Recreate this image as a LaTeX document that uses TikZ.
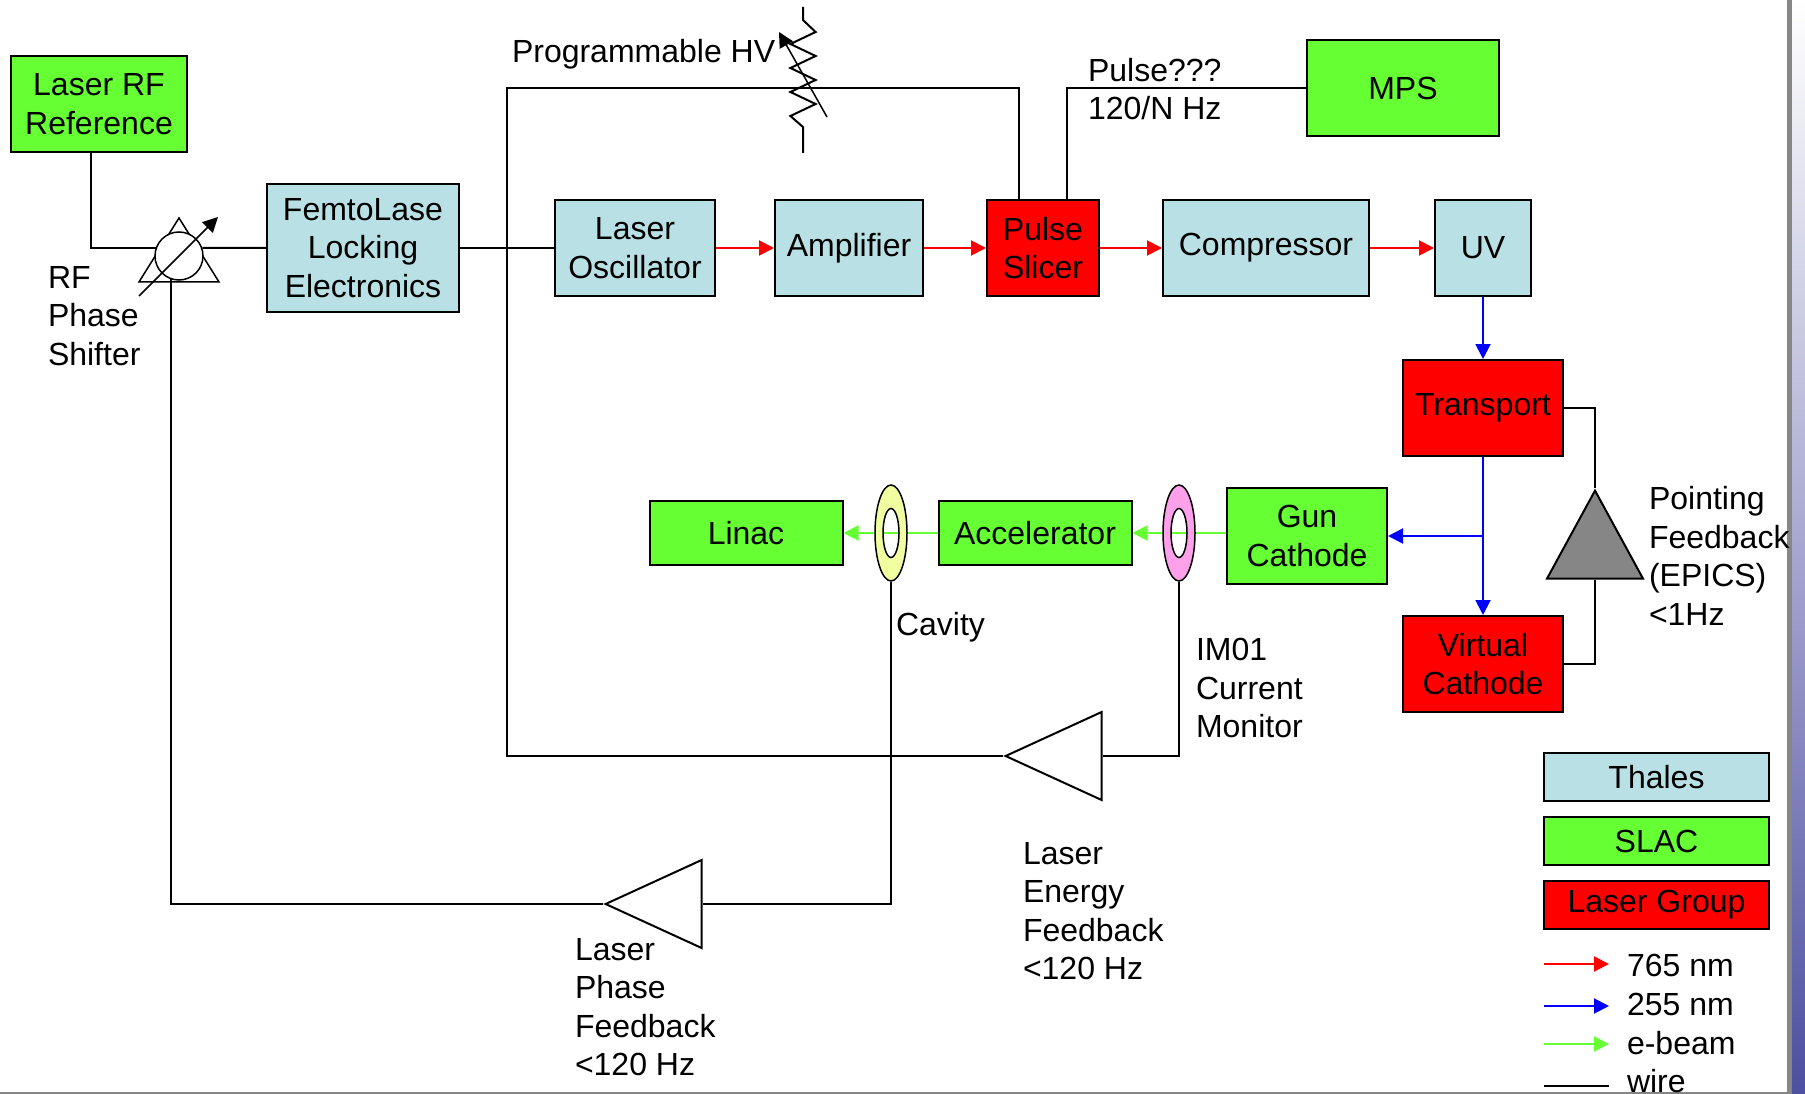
\documentclass[tikz,border=0pt]{standalone}
\usepackage{xcolor}
\usepackage{fontspec}
\setmainfont{Liberation Sans}
\usetikzlibrary{shapes,arrows.meta,positioning,calc}
\definecolor{thales}{RGB}{185,224,228}
\definecolor{slac}{RGB}{102,255,51}
\definecolor{lasergrp}{RGB}{255,0,0}
\definecolor{ebeam}{RGB}{102,255,51}
\definecolor{cavfill}{RGB}{242,255,160}
\definecolor{imfill}{RGB}{255,160,234}
\definecolor{stripe}{RGB}{134,134,134}
\definecolor{slideblue}{RGB}{77,79,160}

\begin{document}
\begin{tikzpicture}[
  x=1pt,y=-1pt,line width=2pt,
  font=\fontsize{32}{38.5}\selectfont,
  box/.style={draw,inner sep=0pt,align=center,minimum height=96pt},
  tbox/.style={box,fill=thales},
  sbox/.style={box,fill=slac},
  rbox/.style={box,fill=lasergrp},
  lgd/.style={draw,inner sep=0pt,minimum width=225pt,minimum height=48pt},
  txt/.style={inner sep=0pt,align=left,anchor=west},
  wire/.style={draw=black},
  arr/.style={-{Triangle[length=15pt,width=15pt]}},
  irbeam/.style={arr,draw=red},
  uvbeam/.style={arr,draw=blue},
  elbeam/.style={arr,draw=ebeam},
  tri/.style={draw,isosceles triangle,isosceles triangle stretches,inner sep=0pt},
  ring/.style={ellipse,inner sep=0pt,minimum width=32pt,minimum height=96pt}
]
\useasboundingbox (0,0) rectangle (1805,1094);

%% ── Slide edge ───────────────────────────────────────────────────────────────
\fill[white] (0,0) rectangle (1805,1094);
\fill[stripe] (1787,0) rectangle (1792,1094);
\shade[top color=white,bottom color=slideblue] (1792,0) rectangle (1805,1094);
\fill[stripe] (0,1092) rectangle (1787,1094);

%% ── Row 1: reference and MPS ─────────────────────────────────────────────────
\node[sbox,minimum width=176pt] (rfref) at (99,104)  {Laser RF\\Reference};
\node[sbox,minimum width=192pt] (mps)   at (1403,88) {MPS};

%% ── Row 2: laser chain ───────────────────────────────────────────────────────
\node[tbox,minimum width=192pt,minimum height=128pt] (femto) at (363,248)
  {FemtoLase\\Locking\\Electronics};
\node[tbox,minimum width=160pt] (osc)    at (635,248)  {Laser\\Oscillator};
\node[tbox,minimum width=148pt] (amp)    at (849,248)  {Amplifier};
\node[rbox,minimum width=112pt] (slicer) at (1043,248) {Pulse\\Slicer};
\node[tbox,minimum width=206pt] (comp)   at (1266,248) {Compressor};
\node[tbox,minimum width=96pt]  (uv)     at (1483,248) {UV};

%% ── Right column and beam line ───────────────────────────────────────────────
\node[rbox,minimum width=160pt] (transport) at (1483,408) {Transport};
\node[rbox,minimum width=160pt] (virtual)   at (1483,664) {Virtual\\Cathode};
\node[sbox,minimum width=160pt] (gun)       at (1307,536) {Gun\\Cathode};
\node[sbox,minimum width=193pt,minimum height=64pt] (accel) at (1035,533) {Accelerator};
\node[sbox,minimum width=193pt,minimum height=64pt] (linac) at (746,533)  {Linac};
\node[ring] (im)  at (1179,533) {};
\node[ring] (cav) at (891,533)  {};

%% ── Beams ────────────────────────────────────────────────────────────────────
\draw[irbeam] (osc) -- (amp);
\draw[irbeam] (amp) -- (slicer);
\draw[irbeam] (slicer) -- (comp);
\draw[irbeam] (comp) -- (uv);
\draw[uvbeam] (uv) -- (transport);
\draw[uvbeam] (transport) -- (virtual);
\coordinate (split) at (transport.south |- gun.east);
\draw[uvbeam] (split) -- (gun.east);
\draw[elbeam] (gun.west |- accel.east) -- (accel.east);
\draw[elbeam] (accel.west) -- (linac.east);

%% ── Rings sit on top of the e-beam, holes stay open ──────────────────────────
\draw[fill=imfill,even odd rule,line width=1.5pt] (im.center) ellipse (16 and 48)
  (im.center) ellipse (8 and 24.5);
\draw[fill=cavfill,even odd rule,line width=1.5pt] (cav.center) ellipse (16 and 48)
  (cav.center) ellipse (8 and 24.5);

%% ── Feedback amplifiers ──────────────────────────────────────────────────────
\node[tri,shape border rotate=180,minimum width=88pt,minimum height=96pt,anchor=apex]
  (engfb) at (1003,756) {};
\node[tri,shape border rotate=180,minimum width=88pt,minimum height=96pt,anchor=apex]
  (phfb) at (603,904) {};
\node[tri,shape border rotate=90,minimum width=96pt,minimum height=88pt,anchor=apex,fill=stripe]
  (ptfb) at (1595,488) {};

%% ── RF phase shifter ─────────────────────────────────────────────────────────
\node[tri,shape border rotate=90,minimum width=80pt,minimum height=64pt,anchor=apex,line width=1.5pt]
  (shiftri) at (179,216) {};
\node[draw,circle,fill=white,inner sep=0pt,minimum size=48pt,line width=1.5pt] (shifter) at (179,256) {};
\coordinate (shifttail) at (139,296);
\coordinate (shifttip)  at (218,217);
\draw[arr,line width=1.5pt] (shifttail) -- (shifttip);

%% ── Wires ────────────────────────────────────────────────────────────────────
\draw[wire] ([xshift=-8pt]rfref.south) |- (shifter.160.5);
\draw[wire] (shifter.19.5) -- (femto.west);
\draw[wire] (femto.east) -- (osc.west);
\draw[wire] (mps.west) -| ([xshift=24pt]slicer.north);
\coordinate (hvcorner) at (507,88);
\draw[wire] (engfb.apex) -| (hvcorner) -| ([xshift=-24pt]slicer.north);
\draw[wire] (im.south) |- (engfb.lower side);
\draw[wire] (cav.south) |- (phfb.lower side);
\draw[wire] (phfb.apex) -| (shifter.250.5);
\draw[wire] (transport.east) -| (ptfb.apex);
\draw[wire] (virtual.east) -| (ptfb.lower side);

%% ── Programmable HV resistor ─────────────────────────────────────────────────
\coordinate (rtop) at (803,7);
\draw[wire,line join=miter] (rtop) -- ++(0,13) -- ++(12.6,12) -- ++(-25.2,12)
  -- ++(25.2,12) -- ++(-25.2,12) -- ++(25.2,12) -- ++(-25.2,12) -- ++(25.2,12)
  -- ++(-25.2,12) -- ++(12.6,11) -- ++(0,26);
\coordinate (rtail) at (827,117);
\coordinate (rtip)  at (779,32);
\draw[arr,line width=1.5pt] (rtail) -- (rtip);

%% ── Labels ───────────────────────────────────────────────────────────────────
\node[txt] (lblhv)    at (511,54)   {Programmable HV};
\node[txt] (lblpulse) at (1087,89)  {Pulse???\\120/N Hz};
\node[txt] (lblrf)    at (47,316)   {RF\\Phase\\Shifter};
\node[txt] (lblcav)   at (895,627)  {Cavity};
\node[txt] (lblim)    at (1195,688) {IM01\\Current\\Monitor};
\node[txt] (lbleng)   at (1022,911) {Laser\\Energy\\Feedback\\<120 Hz};
\node[txt] (lblph)    at (574,1007) {Laser\\Phase\\Feedback\\<120 Hz};
\node[txt] (lblpt)    at (1648,556) {Pointing\\Feedback\\(EPICS)\\<1Hz};

%% ── Legend ───────────────────────────────────────────────────────────────────
\node[lgd,fill=thales]   (lgdthales) at (1656.5,777) {Thales};
\node[lgd,fill=slac]     (lgdslac)   at (1656.5,841) {SLAC};
\node[lgd,fill=lasergrp] (lgdlaser)  at (1656.5,905) {Laser Group};

\node[txt] (lgdir) at (1626,965)  {765 nm};
\node[txt] (lgduv) at (1626,1004) {255 nm};
\node[txt] (lgdel) at (1626,1043) {e-beam};
\node[txt] (lgdwr) at (1626,1081) {wire};
\coordinate (irend) at (1609,964);  \coordinate (irstart) at (1544,964);
\coordinate (uvend) at (1609,1006); \coordinate (uvstart) at (1544,1006);
\coordinate (elend) at (1609,1044); \coordinate (elstart) at (1544,1044);
\coordinate (wrend) at (1609,1086); \coordinate (wrstart) at (1544,1086);
\draw[irbeam] (irstart) -- (irend);
\draw[uvbeam] (uvstart) -- (uvend);
\draw[elbeam] (elstart) -- (elend);
\draw[wire]   (wrstart) -- (wrend);
\end{tikzpicture}
\end{document}
